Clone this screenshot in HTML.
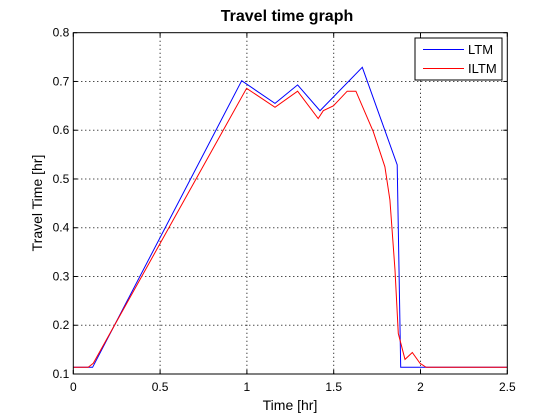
<!DOCTYPE html>
<html><head><meta charset="utf-8"><style>
body{margin:0;background:#fff;width:560px;height:420px;overflow:hidden}
svg{display:block;font-family:"Liberation Sans",sans-serif}
</style></head><body>
<svg id="chart" width="560" height="420">
<rect width="560" height="420" fill="#fff"/>
<g id="grid"></g><g id="series"></g><g id="axes"></g>
<text x="287" y="21" text-anchor="middle" font-size="16" font-weight="bold">Travel time graph</text>
<text x="290" y="410" text-anchor="middle" font-size="14">Time [hr]</text>
<text transform="translate(42,203) rotate(-90)" text-anchor="middle" font-size="14">Travel Time [hr]</text>
<g>
<rect x="415" y="38" width="87" height="42" fill="#fff" stroke="#000"/>
<line x1="423" y1="49.5" x2="464" y2="49.5" stroke="#0000ff"/>
<text x="468" y="54" font-size="13">LTM</text>
<line x1="423" y1="68.5" x2="464" y2="68.5" stroke="#ff0000"/>
<text x="468" y="73" font-size="13">ILTM</text>
</g>
</svg>
<script>
const xTicks=[0,0.5,1,1.5,2,2.5];
const xTickLabels=["0","0.5","1","1.5","2","2.5"];
const yTicks=[0.1,0.2,0.3,0.4,0.5,0.6,0.7,0.8];
const yTickLabels=["0.1","0.2","0.3","0.4","0.5","0.6","0.7","0.8"];
const ltmX=[0,0.111,0.970,1.162,1.292,1.421,1.665,1.866,1.886,2.5];
const ltmY=[0.1137,0.1137,0.7016,0.655,0.693,0.640,0.729,0.529,0.1137,0.1137];
const iltmX=[0,0.086,0.115,0.998,1.162,1.292,1.411,1.440,1.498,1.578,1.628,1.728,1.795,1.824,1.853,1.872,1.911,1.953,1.997,2.032,2.5];
const iltmY=[0.1137,0.1137,0.122,0.686,0.647,0.680,0.624,0.640,0.650,0.680,0.680,0.597,0.525,0.457,0.313,0.183,0.130,0.144,0.122,0.1137,0.1137];
const L=73.3,R=507.3,T=32.7,B=374;
const sx=v=>L+(v-0)/2.5*(R-L);
const sy=v=>B-(v-0.1)/0.7*(B-T);
const NS="http://www.w3.org/2000/svg";
function mk(tag,attrs,parent){const e=document.createElementNS(NS,tag);for(const k in attrs)e.setAttribute(k,attrs[k]);parent.appendChild(e);return e;}
const grid=document.getElementById('grid'),axes=document.getElementById('axes'),series=document.getElementById('series');
xTicks.forEach((t,i)=>{
  const x=sx(t);
  if(i>0&&i<xTicks.length-1){const g=mk('line',{x1:x,x2:x,y1:T,y2:B,stroke:'#000','stroke-dasharray':'1,3'},grid);
  
  }
  mk('line',{x1:x,x2:x,y1:B,y2:B-4,stroke:'#000'},axes);
  mk('line',{x1:x,x2:x,y1:T,y2:T+4,stroke:'#000'},axes);
  const tx=mk('text',{x:x,y:B+17,'text-anchor':'middle','font-size':'12'},axes);tx.textContent=xTickLabels[i];
  
  
});
yTicks.forEach((t,i)=>{
  const y=sy(t);
  if(i>0&&i<yTicks.length-1){const g=mk('line',{x1:L,x2:R,y1:y,y2:y,stroke:'#000','stroke-dasharray':'1,3'},grid);
  
  }
  mk('line',{x1:L,x2:L+4,y1:y,y2:y,stroke:'#000'},axes);
  mk('line',{x1:R,x2:R-4,y1:y,y2:y,stroke:'#000'},axes);
  const tx=mk('text',{x:L-4,y:y+4,'text-anchor':'end','font-size':'12'},axes);tx.textContent=yTickLabels[i];
  
  
});
const box=mk('rect',{x:L,y:T,width:R-L,height:B-T,fill:'none',stroke:'#000'},axes);


function line(xs,ys,c){return xs.map((x,i)=>sx(x).toFixed(1)+','+sy(ys[i]).toFixed(1)).join(' ');}
const p1=mk('polyline',{points:line(ltmX,ltmY),fill:'none',stroke:'#0000ff','stroke-width':1},series);


const p2=mk('polyline',{points:line(iltmX,iltmY),fill:'none',stroke:'#ff0000','stroke-width':1},series);


</script>
</body></html>
